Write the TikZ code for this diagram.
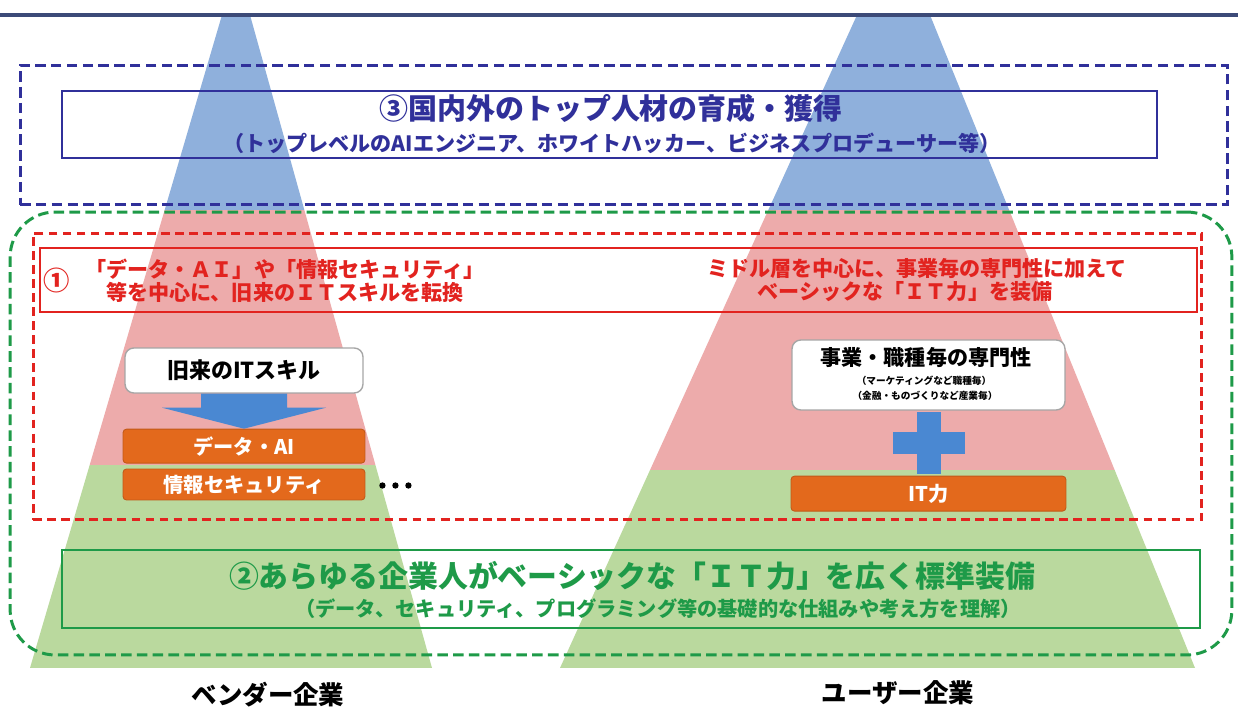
\documentclass[tikz,border=0pt]{standalone}
\usepackage{fontspec}
\setmainfont{Noto Sans CJK JP}
\usetikzlibrary{positioning,calc}

\definecolor{pyrblue}{HTML}{8FB0DC}
\definecolor{pyrpink}{HTML}{EDABAB}
\definecolor{pyrgreen}{HTML}{BAD99E}
\definecolor{topnavy}{HTML}{30309A}
\definecolor{midred}{HTML}{E2231F}
\definecolor{basegreen}{HTML}{1E9A48}
\definecolor{skillorange}{HTML}{E3691C}
\definecolor{arrowblue}{HTML}{4A88D2}
\definecolor{rulenavy}{HTML}{3C4A78}

\begin{document}
\begin{tikzpicture}[x=0.02cm, y=-0.02cm,
    every node/.style={font=\bfseries, inner sep=0pt},
    solidbox/.style={draw=#1, line width=1.3pt},
    dashbox/.style={draw=#1, line width=1.7pt, dash pattern=on 6pt off 3pt},
    whitebox/.style={draw=gray!70, fill=white, line width=0.8pt, rounded corners=5pt},
    skillbox/.style={fill=skillorange, draw=skillorange!85!black, line width=0.5pt, rounded corners=2pt,
      text=white, font=\bfseries\fontsize{11.5}{13}\selectfont},
    node distance=0.1cm]
	\useasboundingbox (0,0) rectangle (1238,709);
	\fill[white] (0,0) rectangle (1238,709);

	% vendor pyramid
	\begin{scope}
		\clip (222,15) -- (250,15) -- (432,668) -- (30,668) -- cycle;
		\fill[pyrblue] (0,15) rectangle (640,210);
		\fill[pyrpink] (0,210) rectangle (640,465);
		\fill[pyrgreen] (0,465) rectangle (640,668);
	\end{scope}
	% user pyramid
	\begin{scope}
		\clip (857,15) -- (930,15) -- (1195,668) -- (560,668) -- cycle;
		\fill[pyrblue] (540,15) rectangle (1238,210);
		\fill[pyrpink] (540,210) rectangle (1238,470);
		\fill[pyrgreen] (540,470) rectangle (1238,668);
	\end{scope}

	\draw[rulenavy, line width=2.2pt] (0,15) -- (1238,15);

	% (3) top talent
	\node[dashbox=topnavy, minimum width=24.16cm, minimum height=2.8cm] (topzone) at (624,135) {};
	\node[solidbox=topnavy, minimum width=21.9cm, minimum height=1.34cm] (topbox) at (609.5,124.5) {};
	\node[text=topnavy, font=\bfseries\fontsize{16.5}{18}\selectfont] (toptitle) at (611,108) {③国内外のトップ人材の育成・獲得};
	\node[text=topnavy, font=\bfseries\fontsize{12}{14}\selectfont] (topnote) at (612,143) {（トップレベルのAIエンジニア、ホワイトハッカー、ビジネスプロデューサー等）};

	% (2) base zone and (1) middle zone
	\node[dashbox=basegreen, rounded corners=0.9cm, minimum width=24.44cm, minimum height=8.86cm] (basezone) at (621,433.5) {};
	\node[dashbox=midred, dash pattern=on 5pt off 3pt, minimum width=23.38cm, minimum height=5.74cm] (midzone) at (617.5,376.5) {};
	\node[solidbox=midred, minimum width=23.14cm, minimum height=1.28cm] (midbox) at (618.5,280) {};
	\node[text=midred, font=\bfseries\fontsize{15}{17}\selectfont] (midnum) at (57,280) {①};
	\node[text=midred, font=\bfseries\fontsize{12}{14}\selectfont] (midleftA) at (285,269) {「データ・ＡＩ」や「情報セキュリティ」};
	\node[text=midred, font=\bfseries\fontsize{12}{14}\selectfont] (midleftB) at (285,292) {等を中心に、旧来のＩＴスキルを転換};
	\node[text=midred, font=\bfseries\fontsize{12}{14}\selectfont] (midrightA) at (917,269) {ミドル層を中心に、事業毎の専門性に加えて};
	\node[text=midred, font=\bfseries\fontsize{12}{14}\selectfont] (midrightB) at (905,292) {ベーシックな「ＩＴ力」を装備};

	% vendor side skills
	\node[whitebox, minimum width=4.76cm, minimum height=0.9cm, font=\bfseries\fontsize{12.5}{14}\selectfont] (oldit) at (244,370.5) {旧来のITスキル};
	\node[skillbox, minimum width=4.84cm, minimum height=0.68cm] (dataai) [below=0.7cm of oldit] {データ・AI};
	\node[skillbox, minimum width=4.84cm, minimum height=0.62cm] (infosec) [below=of dataai] {情報セキュリティ};
	\fill[arrowblue] ($(oldit.south)+(-43,0)$) -- ($(oldit.south)+(-43,14)$) -- ($(oldit.south)+(-82,14)$)
		-- (dataai.north) -- ($(oldit.south)+(82,14)$) -- ($(oldit.south)+(43,14)$) -- ($(oldit.south)+(43,0)$) -- cycle;
	\foreach \i in {0,1,2}
		\fill ($(infosec.east)+(17+13*\i,1)$) circle (1.8pt);

	% user side skills
	\node[whitebox, minimum width=5.46cm, minimum height=1.4cm] (spec) at (928.5,375) {};
	\node[font=\bfseries\fontsize{12}{14}\selectfont] (specA) at (926,358) {事業・職種毎の専門性};
	\node[font=\bfseries\fontsize{5.5}{7}\selectfont] (specB) at (924,381) {（マーケティングなど職種毎）};
	\node[font=\bfseries\fontsize{5.5}{7}\selectfont] (specC) at (925,396) {（金融・ものづくりなど産業毎）};
	\node[skillbox, minimum width=5.5cm, minimum height=0.7cm] (itpower) [below=1.3cm of spec] {IT力};
	\coordinate (plusc) at ($(spec.south)!0.5!(itpower.north)$);
	\fill[arrowblue] ($(plusc)+(-12,-31)$) rectangle ($(plusc)+(12,31)$);
	\fill[arrowblue] ($(plusc)+(-36,-11)$) rectangle ($(plusc)+(36,11)$);

	% (2) every worker
	\node[solidbox=basegreen, minimum width=22.76cm, minimum height=1.56cm] (basebox) at (631,589) {};
	\node[text=basegreen, font=\bfseries\fontsize{17}{19}\selectfont] (basetitle) at (632,576) {②あらゆる企業人がベーシックな「ＩＴ力」を広く標準装備};
	\node[text=basegreen, font=\bfseries\fontsize{11.5}{13}\selectfont] (basenote) at (658,609) {（データ、セキュリティ、プログラミング等の基礎的な仕組みや考え方を理解）};

	% labels
	\node[font=\bfseries\fontsize{14.5}{16}\selectfont] (vendor) at (268,695) {ベンダー企業};
	\node[font=\bfseries\fontsize{14.5}{16}\selectfont] (user) at (898,693) {ユーザー企業};
\end{tikzpicture}
\end{document}
